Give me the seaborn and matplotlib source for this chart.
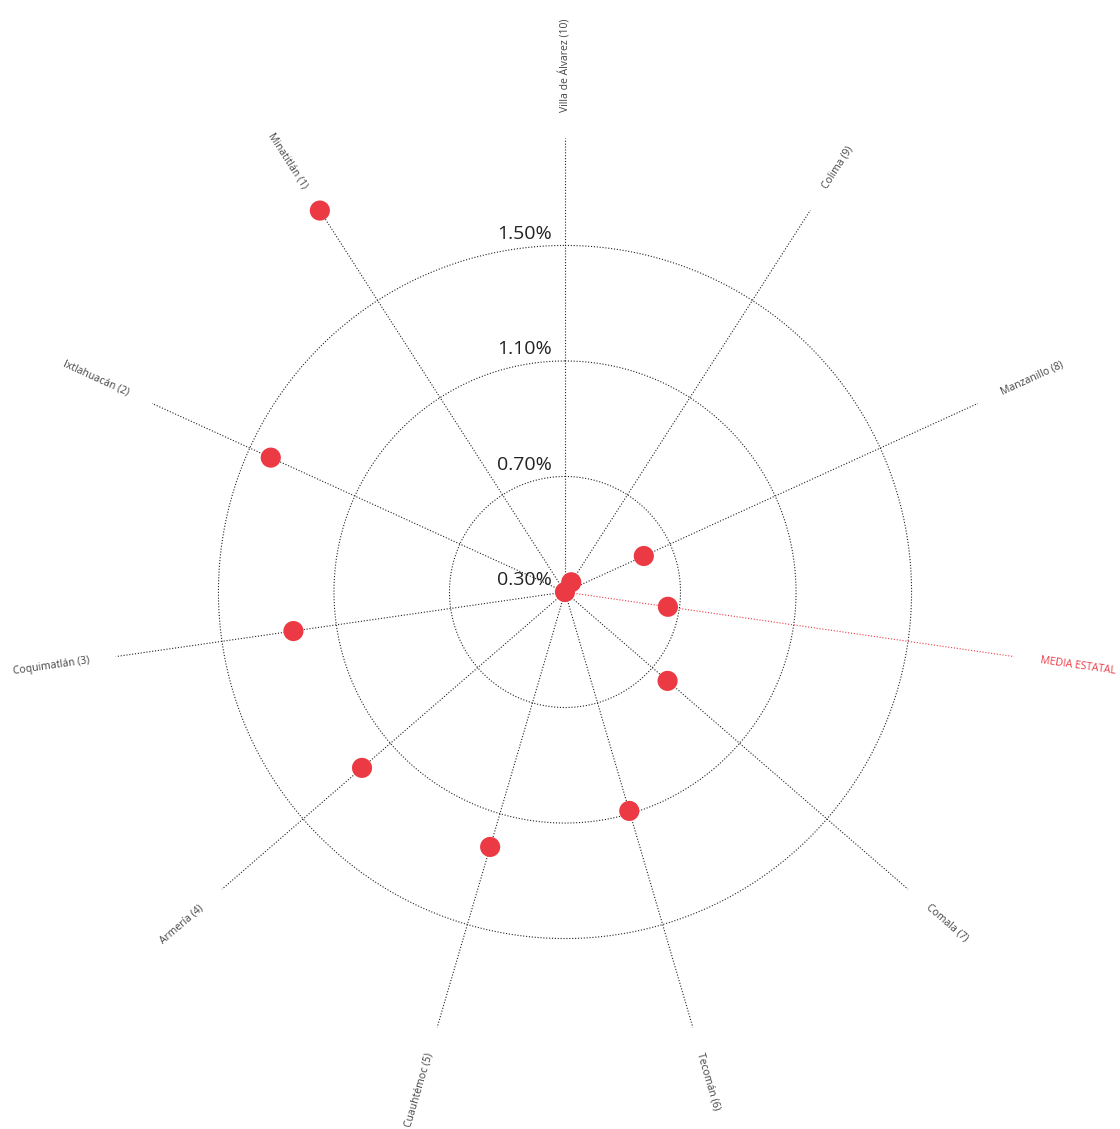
import numpy as np
import pandas as pd
import matplotlib
matplotlib.use("Agg")
import matplotlib.pyplot as plt
import seaborn as sns

# ---- data ----
municipios = ["Minatitlán (1)", "Ixtlahuacán (2)", "Coquimatlán (3)", "Armería (4)",
              "Cuauhtémoc (5)", "Tecomán (6)", "Comala (7)", "Manzanillo (8)",
              "Colima (9)", "Villa de Álvarez (10)"]
valores = [1.87, 1.42, 1.25, 1.23, 1.22, 1.09, 0.77, 0.60, 0.34, 0.30]
media_label = "MEDIA ESTATAL"
media_valor = 0.66
spoke_order = ["Villa de Álvarez (10)", "Colima (9)", "Manzanillo (8)", "MEDIA ESTATAL",
               "Comala (7)", "Tecomán (6)", "Cuauhtémoc (5)", "Armería (4)",
               "Coquimatlán (3)", "Ixtlahuacán (2)", "Minatitlán (1)"]
ring_values = [0.30, 0.70, 1.10, 1.50]
ring_labels = ["0.30%", "0.70%", "1.10%", "1.50%"]
r_min, r_max = 0.30, 1.872

sns.set_theme(style="white")
plt.rcParams['font.family'] = ['Open Sans', 'DejaVu Sans']

RED = "#EC3A44"
LABEL_FONT = ['Open Sans', 'DejaVu Sans']

df = pd.DataFrame({"nombre": municipios + [media_label], "valor": valores + [media_valor]})
n = len(spoke_order)
step = 2 * np.pi / n
df["theta"] = [spoke_order.index(nm) * step for nm in df["nombre"]]

W, H = 1120, 1129
fig = plt.figure(figsize=(W / 100, H / 100), dpi=100)
cx, cy, R = 565, 1129 - 592, 454
ax = fig.add_axes([(cx - R) / W, (cy - R) / H, 2 * R / W, 2 * R / H], projection="polar")
ax.set_theta_zero_location("N")
ax.set_theta_direction(-1)
ax.set_rlim(r_min, r_max)
ax.grid(False)
ax.set_xticks([])
ax.set_yticks([])
ax.spines["polar"].set_visible(False)
ax.set_facecolor("none")

dots = (0, (1, 1.6))
# rings
tt = np.linspace(0, 2 * np.pi, 721)
for rv in ring_values[1:]:
    ax.plot(tt, np.full_like(tt, rv), color="#222222", lw=0.8, ls=dots, zorder=1)

# spokes
for i, nm in enumerate(spoke_order):
    th = i * step
    col = RED if nm == media_label else "#222222"
    ax.plot([th, th], [r_min, r_max], color=col, lw=0.8, ls=dots, zorder=1)

# spoke labels
r_lab = r_min + 480 / 288.75
for i, nm in enumerate(spoke_order):
    th = i * step
    a = 90 - np.degrees(th)
    a = (a + 180) % 360 - 180
    if -90 - 1e-6 <= a <= 90 + 1e-6:
        rot, ha = a, "left"
    else:
        rot, ha = a + 180 if a < 0 else a - 180, "right"
    col = RED if nm == media_label else "#444444"
    ax.text(th, r_lab, nm, rotation=rot, rotation_mode="anchor", ha=ha, va="center",
            fontsize=7.5, color=col, family=LABEL_FONT, clip_on=False)

# ring labels
for rv, lb in zip(ring_values, ring_labels):
    ax.annotate(lb, xy=(0, rv), xytext=(-9.5, 2), textcoords="offset points",
                ha="right", va="bottom", fontsize=14, color="#222222")

# points
sns.scatterplot(data=df, x="theta", y="valor", ax=ax, color=RED, s=210,
                edgecolor="none", linewidth=0, zorder=3, legend=False)
for coll in ax.collections:
    coll.set_clip_on(False)
ax.set_xlabel("")
ax.set_ylabel("")
ax.set_rlim(r_min, r_max)

fig.savefig("out.png", dpi=100, facecolor="white")
